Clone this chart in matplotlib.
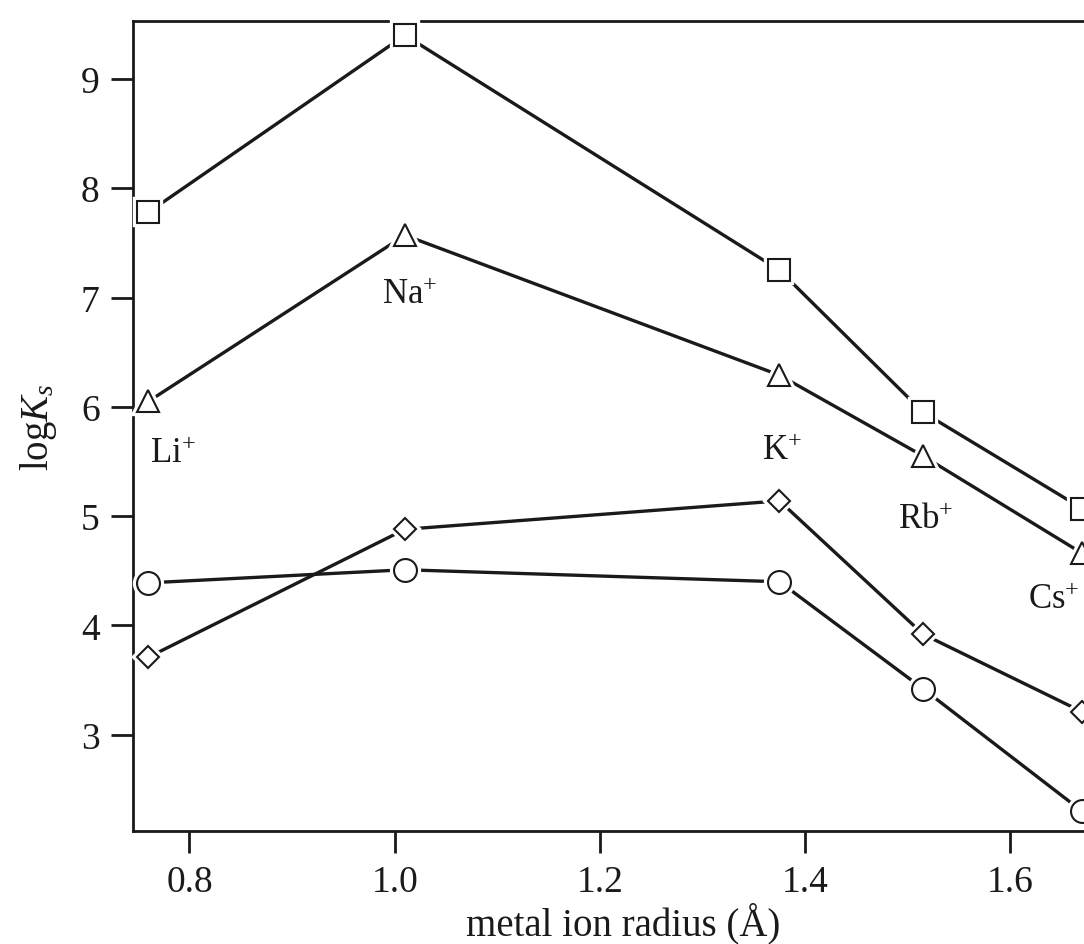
import matplotlib
matplotlib.use("Agg")
import matplotlib.pyplot as plt

plt.rcParams['font.family'] = ['Liberation Serif', 'DejaVu Serif']
plt.rcParams['mathtext.fontset'] = 'custom'
plt.rcParams['mathtext.rm'] = 'Liberation Serif'
plt.rcParams['mathtext.it'] = 'Liberation Serif:italic'
plt.rcParams['mathtext.bf'] = 'Liberation Serif:bold'

# metal ion radius (Å) for Li+, Na+, K+, Rb+, Cs+
radius = [0.76, 1.01, 1.375, 1.515, 1.67]
ions = ['Li', 'Na', 'K', 'Rb', 'Cs']

# log Ks values for each series
logk_square = [7.78, 9.40, 7.25, 5.95, 5.07]
logk_triangle = [6.05, 7.57, 6.29, 5.55, 4.66]
logk_diamond = [3.71, 4.88, 5.14, 3.92, 3.21]
logk_circle = [4.39, 4.51, 4.40, 3.42, 2.30]

# ion label anchor positions (data coords)
label_x = [0.784, 1.015, 1.377, 1.517, 1.642]
label_y = [5.57, 7.03, 5.60, 4.97, 4.24]

xticks = [0.8, 1.0, 1.2, 1.4, 1.6]
xticklabels = ['0.8', '1.0', '1.2', '1.4', '1.6']
yticks = [3, 4, 5, 6, 7, 8, 9]

fig = plt.figure(figsize=(10.84, 9.45), dpi=100)
ax = fig.add_axes([133 / 1084, 1 - 832 / 945, (1113 - 133) / 1084, (832 - 22) / 945])

series = [
    (logk_square, 's', 16),
    (logk_triangle, '^', 15.5),
    (logk_diamond, 'D', 11.5),
    (logk_circle, 'o', 16.5),
]

for vals, mk, ms in series:
    ax.plot(radius, vals, color='#1a1a1a', lw=2.4, zorder=2, solid_capstyle='butt')
    ax.plot(radius, vals, ls='none', marker=mk, ms=ms, mfc='white', mec='white',
            mew=6, zorder=3, clip_on=False)
    ax.plot(radius, vals, ls='none', marker=mk, ms=ms, mfc='white', mec='#1a1a1a',
            mew=1.5, zorder=4, clip_on=False)

for name, lx, ly in zip(ions, label_x, label_y):
    ax.text(lx, ly, name + r'$^{+}$', fontsize=25, ha='center', va='center',
            color='#1a1a1a')

ax.set_xlim(0.745, 1.70)
ax.set_ylim(2.12, 9.53)
ax.set_xticks(xticks)
ax.set_xticklabels(xticklabels)
ax.set_yticks(yticks)

for sp in ax.spines.values():
    sp.set_linewidth(2.0)
    sp.set_color('#1a1a1a')

ax.tick_params(axis='both', direction='out', length=16, width=2.0, color='#1a1a1a',
               labelsize=27, labelcolor='#1a1a1a')
ax.tick_params(axis='x', pad=8)
ax.tick_params(axis='y', pad=8)

ax.set_xlabel('metal ion radius (Å)', fontsize=28, color='#1a1a1a', labelpad=2)
ax.set_ylabel(r'$\mathrm{log}K_{s}$', fontsize=28, color='#1a1a1a', labelpad=16)

fig.savefig('out.png', dpi=100, facecolor='white')
